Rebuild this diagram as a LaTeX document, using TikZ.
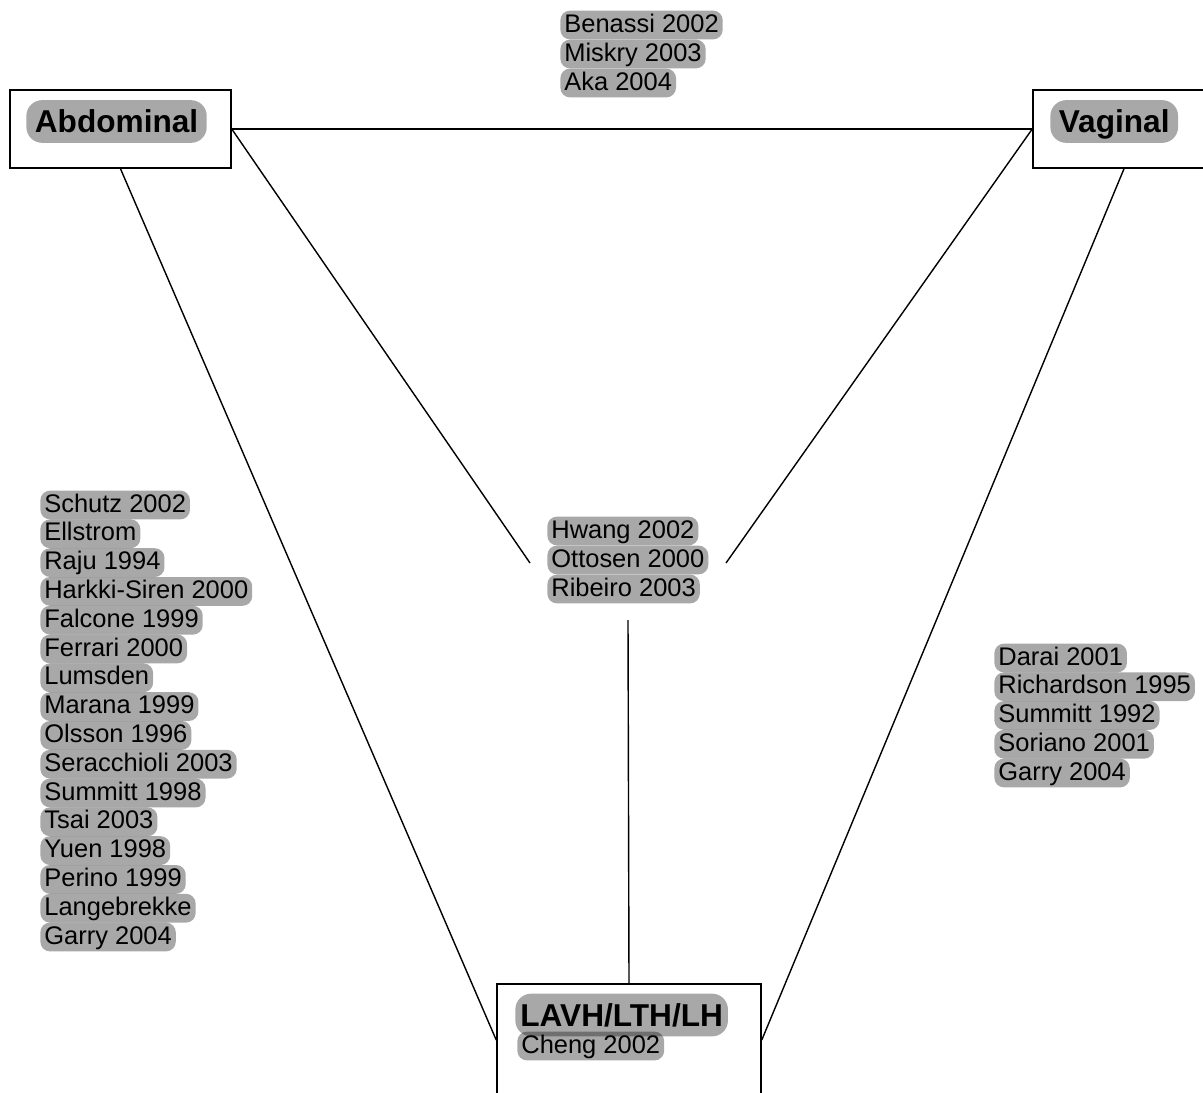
\documentclass[tikz,border=0pt]{standalone}
\usepackage{fontspec}
\setmainfont{Liberation Sans}
\usetikzlibrary{positioning}

\tikzset{
  study/.style={fill=black, fill opacity=0.34, text opacity=1, rounded corners=5.5pt,
    inner xsep=0.08cm, inner ysep=0pt, text height=0.43cm, text depth=0.146cm,
    anchor=west, font=\fontsize{14.5}{16}\selectfont},
  arm/.style={study, rounded corners=9pt, inner xsep=0.17cm, text height=0.654cm,
    text depth=0.2cm, font=\fontsize{18}{20}\selectfont\bfseries},
  armbox/.style={draw, line width=0.9pt, inner sep=0pt},
  link/.style={line width=0.8pt},
}

\begin{document}
\begin{tikzpicture}[x=0.02cm, y=-0.02cm]
  \useasboundingbox (0,0) rectangle (1203,1092);
  \clip (0,0) rectangle (1203,1092);

  % treatment arms
  \node[armbox, minimum width=4.42cm, minimum height=1.56cm] (abd) at (120.5,129) {};
  \node[arm] (abdl) at (26,121.5) {Abdominal};

  \node[armbox, minimum width=3.64cm, minimum height=1.56cm] (vag) at (1124,129) {};
  \node[arm] (vagl) at (1050,121.5) {Vaginal};

  \node[armbox, minimum width=5.28cm, minimum height=2.24cm] (lav) at (629,1040) {};
  \node[arm, inner xsep=0.1cm] (lavl) at (515,1015) {LAVH/LTH/LH};
  \node[study] (cheng) at (517,1046) {Cheng 2002};

  % abdominal vs vaginal
  \node[study] (ben) at (560,25) {Benassi 2002};
  \node[study] (mis) at (560,54) {Miskry 2003};
  \node[study] (aka) at (560,83) {Aka 2004};

  % all three
  \node[study] (hwa) at (547,531) {Hwang 2002};
  \node[study] (ott) at (547,560) {Ottosen 2000};
  \node[study] (rib) at (547,589) {Ribeiro 2003};

  % abdominal vs laparoscopic
  \foreach \name [count=\i] in {Schutz 2002, Ellstrom, Raju 1994, Harkki-Siren 2000,
      Falcone 1999, Ferrari 2000, Lumsden, Marana 1999, Olsson 1996,
      Seracchioli 2003, Summitt 1998, Tsai 2003, Yuen 1998, Perino 1999,
      Langebrekke, Garry 2004}
    \node[study] (ab\i) at (40,{505+28.8*(\i-1)}) {\name};

  % vaginal vs laparoscopic
  \foreach \name [count=\i] in {Darai 2001, Richardson 1995, Summitt 1992,
      Soriano 2001, Garry 2004}
    \node[study] (va\i) at (994,{658+28.75*(\i-1)}) {\name};

  \coordinate (cl) at (530,563);
  \coordinate (cr) at (726,563);
  \coordinate (cb) at (628,620);

  \draw[link] (abd.east) -- (vag.west);
  \draw[link] (abd.east) -- (cl);
  \draw[link] (vag.west) -- (cr);
  \draw[link] (cb) -- (lav.north);
  \draw[link] (abd.south) -- (lav.west);
  \draw[link] (vag.south) -- (lav.east);
\end{tikzpicture}
\end{document}
